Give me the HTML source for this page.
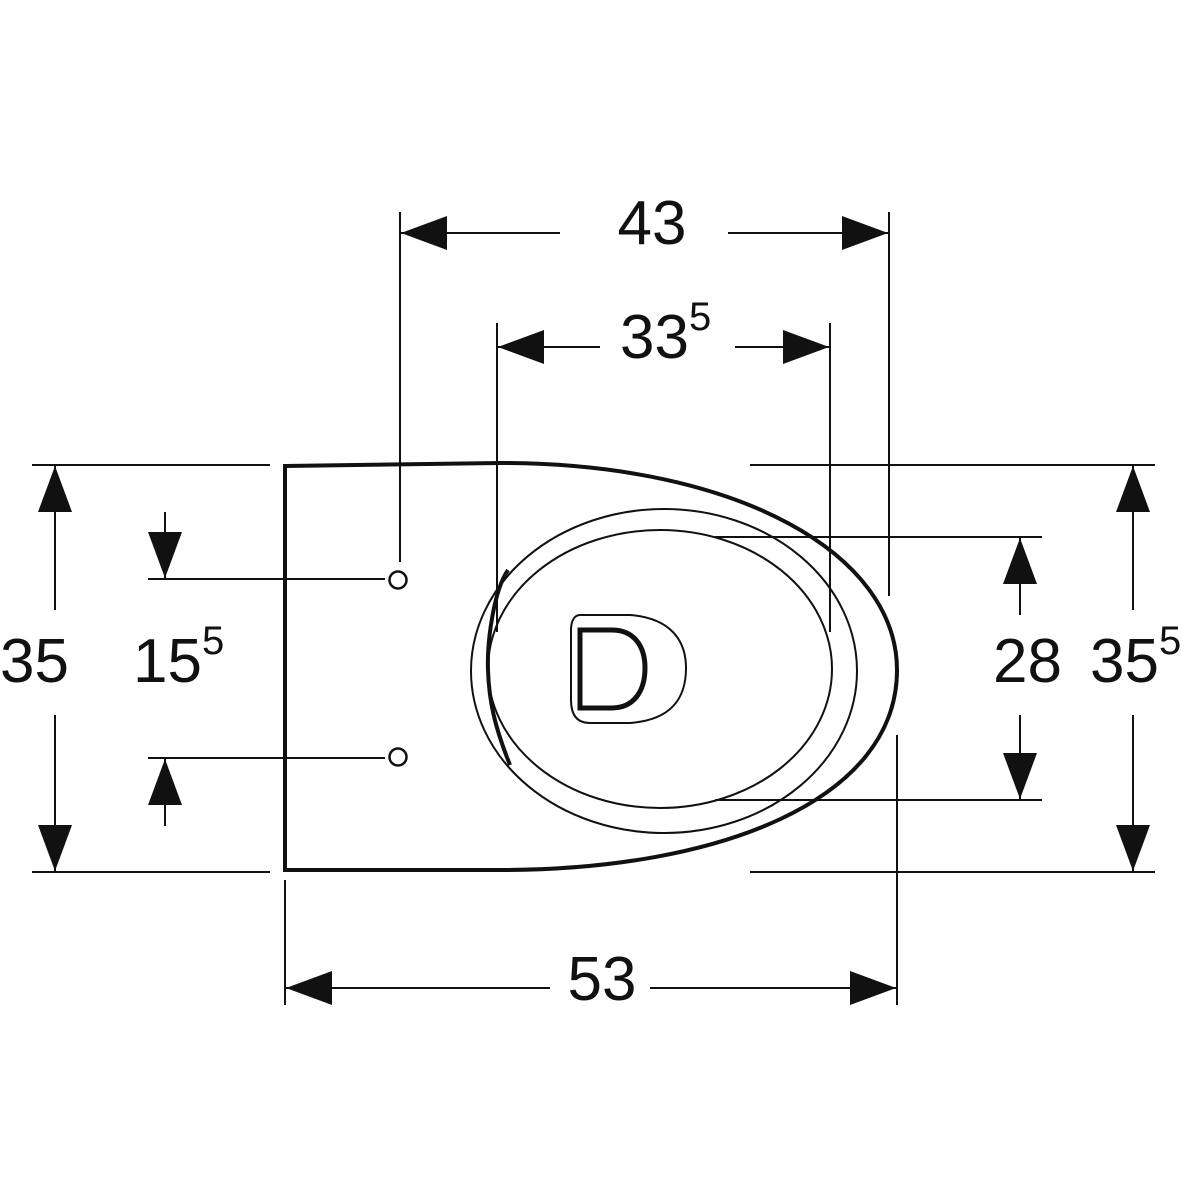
<!DOCTYPE html>
<html><head><meta charset="utf-8"><style>
html,body{margin:0;padding:0;background:#fff;}
svg{display:block}
text{font-family:"Liberation Sans",sans-serif;fill:#111;}
</style></head><body>
<svg width="1200" height="1200" viewBox="0 0 1200 1200">
<defs>
<marker id="a" viewBox="0 0 46 34" refX="46" refY="17" markerWidth="46" markerHeight="34" markerUnits="userSpaceOnUse" orient="auto"><path d="M0,0 L46,17 L0,34 Z" fill="#111"/></marker>
</defs>
<g stroke="#111" stroke-width="2" fill="none">
<line x1="400" y1="212" x2="400" y2="562"/>
<line x1="889" y1="212" x2="889" y2="596"/>
<line x1="560" y1="233" x2="401" y2="233" marker-end="url(#a)"/>
<line x1="728" y1="233" x2="888" y2="233" marker-end="url(#a)"/>
<line x1="497" y1="323" x2="497" y2="632"/>
<line x1="830" y1="323" x2="830" y2="632"/>
<line x1="600" y1="347" x2="498" y2="347" marker-end="url(#a)"/>
<line x1="735" y1="347" x2="829" y2="347" marker-end="url(#a)"/>
<line x1="285" y1="880" x2="285" y2="1005"/>
<line x1="897" y1="735" x2="897" y2="1005"/>
<line x1="550" y1="988" x2="286" y2="988" marker-end="url(#a)"/>
<line x1="650" y1="988" x2="896" y2="988" marker-end="url(#a)"/>
<line x1="32" y1="465" x2="270" y2="465"/>
<line x1="32" y1="872" x2="270" y2="872"/>
<line x1="55" y1="610" x2="55" y2="466" marker-end="url(#a)"/>
<line x1="55" y1="715" x2="55" y2="871" marker-end="url(#a)"/>
<line x1="148" y1="579" x2="385" y2="579"/>
<line x1="148" y1="758" x2="385" y2="758"/>
<line x1="165" y1="512" x2="165" y2="578" marker-end="url(#a)"/>
<line x1="165" y1="826" x2="165" y2="759" marker-end="url(#a)"/>
<line x1="715" y1="537" x2="1042" y2="537"/>
<line x1="715" y1="800" x2="1042" y2="800"/>
<line x1="1020" y1="615" x2="1020" y2="538" marker-end="url(#a)"/>
<line x1="1020" y1="715" x2="1020" y2="799" marker-end="url(#a)"/>
<line x1="750" y1="465" x2="1155" y2="465"/>
<line x1="750" y1="872" x2="1155" y2="872"/>
<line x1="1133" y1="610" x2="1133" y2="466" marker-end="url(#a)"/>
<line x1="1133" y1="715" x2="1133" y2="871" marker-end="url(#a)"/>
<path d="M285,466 L500,463 C740,463 897,555 897,670 C897,800 720,870 500,870 L285,870 Z" stroke-width="4"/>
<ellipse cx="664" cy="671" rx="193" ry="162"/>
<ellipse cx="660" cy="669" rx="172" ry="139"/>
<path d="M508,570 C494,590 487,640 488,670 C489,700 494,725 510,765" stroke-width="4"/>
<path d="M580,615 L630,615 C670,618 686,640 686,668 C686,700 670,720 630,723 L590,723 C575,723 571,712 571,700 L571,630 C571,620 575,615 580,615 Z"/>
<path d="M580,630 L612,630 C633,630 645,645 645,668 C645,692 633,708 612,708 L580,708 Z" stroke-width="5"/>
<circle cx="398" cy="580" r="8.5" stroke-width="2.5"/>
<circle cx="398" cy="757" r="8.5" stroke-width="2.5"/>
</g>
<text x="652" y="244" font-size="62" text-anchor="middle">43</text>
<text x="620" y="358" font-size="62">33<tspan font-size="40" dy="-28">5</tspan></text>
<text x="602" y="1000" font-size="62" text-anchor="middle">53</text>
<text x="0" y="682" font-size="62">35</text>
<text x="133" y="682" font-size="62">15<tspan font-size="40" dy="-28">5</tspan></text>
<text x="993" y="682" font-size="62">28</text>
<text x="1090" y="682" font-size="62">35<tspan font-size="40" dy="-28">5</tspan></text>
</svg>
</body></html>
